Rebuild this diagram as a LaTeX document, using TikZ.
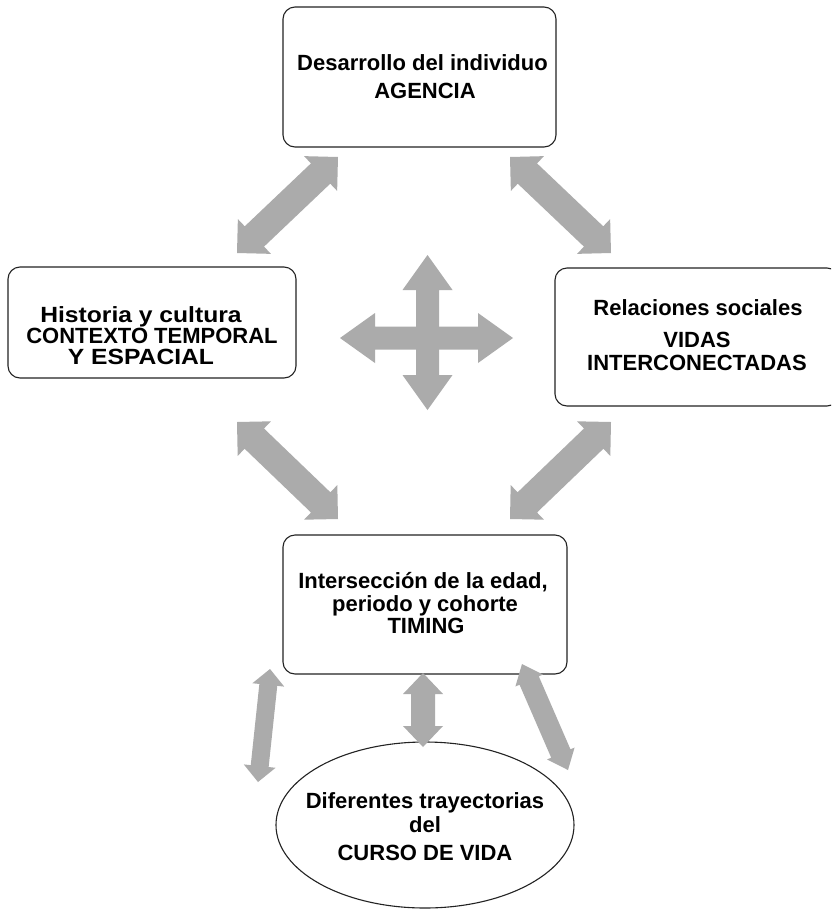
\documentclass[tikz,border=0pt]{standalone}
\usepackage{fontspec}
\setmainfont{Liberation Sans}
\usetikzlibrary{calc,shapes.geometric}
\definecolor{arrowgray}{RGB}{171,171,171}
\definecolor{edgecol}{RGB}{35,35,35}
% #1 tip A, #2 tip B, #3 shaft half width, #4 head half width, #5 head length
\newcommand\fatarrow[5]{%
  \coordinate (hA) at ($(#1)!#5!(#2)$);
  \coordinate (hB) at ($(#2)!#5!(#1)$);
  \fill[arrowgray] (#1) -- ($(hA)!#4!90:(#2)$) -- ($(hA)!#3!90:(#2)$)
    -- ($(hB)!#3!-90:(#1)$) -- ($(hB)!#4!-90:(#1)$) -- (#2)
    -- ($(hB)!#4!90:(#1)$) -- ($(hB)!#3!90:(#1)$)
    -- ($(hA)!#3!-90:(#2)$) -- ($(hA)!#4!-90:(#2)$) -- cycle;
}
\begin{document}
\begin{tikzpicture}[x=1pt,y=-1pt,
  box/.style={draw=edgecol, line width=1.1pt, rounded corners=12pt, fill=white, inner sep=0pt},
  oval/.style={draw=edgecol, line width=1.1pt, ellipse, fill=white, inner sep=0pt},
  txt/.style={font=\fontsize{22}{26}\selectfont\bfseries, anchor=base, inner sep=0pt}]
\clip (0,0) rectangle (831,911);
\fill[white] (0,0) rectangle (831,911);

% boxes
\node[box, minimum width=273pt, minimum height=140pt] (agencia) at (419.5,77) {};
\node[box, minimum width=288pt, minimum height=111pt] (contexto) at (152,322.5) {};
\node[box, minimum width=284pt, minimum height=138pt] (vidas) at (697,337) {};
\node[box, minimum width=284pt, minimum height=139pt] (timing) at (425,604.5) {};
\node[oval, minimum width=298pt, minimum height=166pt] (curso) at (425,825) {};

% texts
\node[txt] (a1) at (422.5,70) {Desarrollo del individuo};
\node[txt] (a2) at (425,98) {AGENCIA};
\node[txt] (c1) at (141,322) {\scalebox{1.12}[1]{Historia y cultura}};
\node[txt] (c2) at (152,343) {CONTEXTO TEMPORAL};
\node[txt] (c3) at (141,364) {\scalebox{1.12}[1]{Y ESPACIAL}};
\node[txt] (v1) at (698,315) {Relaciones sociales};
\node[txt] (v2) at (697,347) {VIDAS};
\node[txt] (v3) at (697,370) {INTERCONECTADAS};
\node[txt] (t1) at (423,588) {Intersección de la edad,};
\node[txt] (t2) at (425,611) {periodo y cohorte};
\node[txt] (t3) at (426,633) {TIMING};
\node[txt] (e1) at (425,808) {Diferentes trayectorias};
\node[txt] (e2) at (425,832) {del};
\node[txt] (e3) at (425,860) {CURSO DE VIDA};

% arrow end points
\coordinate (d1a) at (237,253); \coordinate (d1b) at (338,157);
\coordinate (d2a) at (510,157); \coordinate (d2b) at (611,253);
\coordinate (d3a) at (237,422); \coordinate (d3b) at (338,519);
\coordinate (d4a) at (611,422); \coordinate (d4b) at (510,519);
\coordinate (cvt) at (427.5,255); \coordinate (cvb) at (427.5,410);
\coordinate (chl) at (340,338); \coordinate (chr) at (513,338);
\coordinate (b1a) at (270,669); \coordinate (b1b) at (258,782);
\coordinate (b2a) at (423,673); \coordinate (b2b) at (423,747);
\coordinate (b3a) at (522,664); \coordinate (b3b) at (568,770);

\fatarrow{d1a}{d1b}{14pt}{24pt}{24pt}
\fatarrow{d2a}{d2b}{14pt}{24pt}{24pt}
\fatarrow{d3a}{d3b}{14pt}{24pt}{24pt}
\fatarrow{d4a}{d4b}{14pt}{24pt}{24pt}
\fatarrow{cvt}{cvb}{11.5pt}{25pt}{35pt}
\fatarrow{chl}{chr}{11.5pt}{25pt}{35pt}
\fatarrow{b1a}{b1b}{9pt}{16pt}{16pt}
\fatarrow{b2a}{b2b}{12pt}{20pt}{21pt}
\fatarrow{b3a}{b3b}{10.5pt}{15pt}{18pt}
\end{tikzpicture}
\end{document}
